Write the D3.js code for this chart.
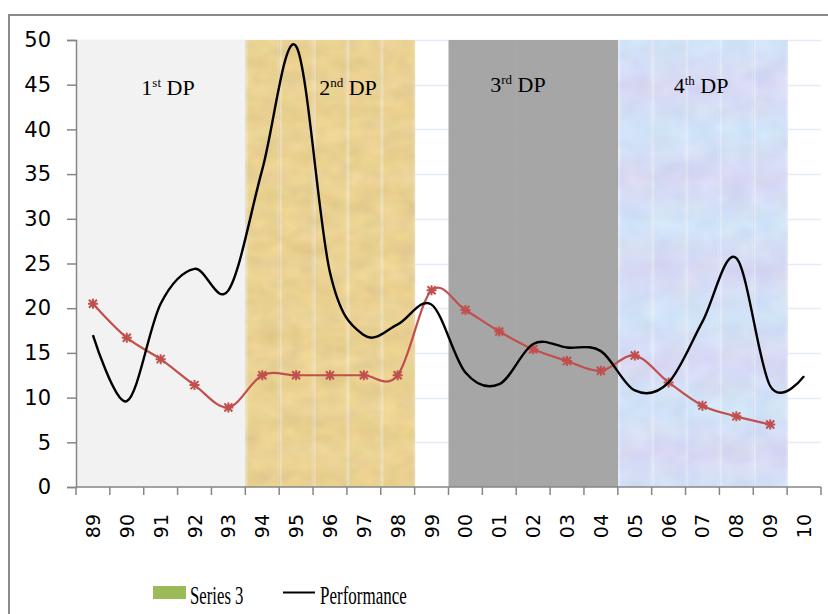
<!DOCTYPE html>
<html>
<head>
<meta charset="utf-8">
<script src="https://cdn.jsdelivr.net/npm/d3@7"></script>
<style>
  html, body { margin: 0; padding: 0; background: #fff; }
  svg { display: block; }
</style>
</head>
<body>
<svg id="chart" width="828" height="614"></svg>
<script>
// Years on the category axis
const years = ["89","90","91","92","93","94","95","96","97","98","99",
               "00","01","02","03","04","05","06","07","08","09","10"];

// Performance (black smoothed line)
const performance = [17, 9.6, 20.5, 24.4, 22, 35.5, 49.3, 24, 17, 18.2, 20.4,
                     12.8, 11.5, 16, 15.6, 15.2, 10.8, 11.7, 18.5, 25.6, 11.3, 12.4];

// Second series (red smoothed line with star markers)
const series2 = [20.5, 16.7, 14.3, 11.4, 8.9, 12.5, 12.5, 12.5, 12.5, 12.5, 22,
                 19.8, 17.4, 15.4, 14.1, 13, 14.7, 11.7, 9.1, 7.9, 7, null];

// Series 3: full-height columns marking the four periods (0 = no column)
const series3 = [50, 50, 50, 50, 50, 50, 50, 50, 50, 50, 0,
                 50, 50, 50, 50, 50, 50, 50, 50, 50, 50, 0];

// Period each column belongs to
const period = [0,0,0,0,0, 1,1,1,1,1, -1, 2,2,2,2,2, 3,3,3,3,3, -1];

// Period labels (number + ordinal suffix)
const periodNum = ["1", "2", "3", "4"];
const periodSup = ["st", "nd", "rd", "th"];

const yTicks = [0, 5, 10, 15, 20, 25, 30, 35, 40, 45, 50];

const svg = d3.select("#chart");
const W = 828, H = 614;
const plot = { left: 76, right: 821, top: 40, bottom: 487 };

const x = d3.scaleBand().domain(years).range([plot.left, plot.right]).padding(0);
const y = d3.scaleLinear().domain([0, 50]).range([plot.bottom, plot.top]);
const bw = x.bandwidth();
const cx = d => x(d) + bw / 2;

const defs = svg.append("defs");

// Band-wise stripe pattern: light seam at each column edge, soft vertical shading
function stripePattern(id, top, bottom, seam, x0, h) {
  const gid = id + "-grad";
  const g = defs.append("linearGradient").attr("id", gid)
    .attr("x1", 0).attr("y1", 0).attr("x2", 0).attr("y2", 1);
  g.append("stop").attr("offset", "0%").attr("stop-color", top);
  g.append("stop").attr("offset", "50%").attr("stop-color", bottom);
  g.append("stop").attr("offset", "100%").attr("stop-color", top);
  const p = defs.append("pattern")
    .attr("id", id).attr("patternUnits", "userSpaceOnUse")
    .attr("x", x0).attr("y", plot.top).attr("width", bw).attr("height", h);
  p.append("rect").attr("width", bw).attr("height", h).attr("fill", `url(#${gid})`);
  p.append("rect").attr("x", 0).attr("width", 2.5).attr("height", h)
    .attr("fill", seam).attr("opacity", 0.7);
  p.append("rect").attr("x", bw - 1.5).attr("width", 1.5).attr("height", h)
    .attr("fill", seam).attr("opacity", 0.35);
  return p;
}
stripePattern("papyrus", "#ebd396", "#e8cf8e", "#eee3c6", x("94"), 46);
stripePattern("bluetex", "#d0e4f7", "#d8d8f3", "#e6ecfa", x("05"), 92);

// Grain filter: adds a soft, low-contrast mottling to the textured periods
function grain(id, freq, k, seed) {
  const f = defs.append("filter").attr("id", id)
    .attr("filterUnits", "userSpaceOnUse")
    .attr("x", 0).attr("y", 0).attr("width", W).attr("height", H)
    .attr("color-interpolation-filters", "sRGB");
  f.append("feTurbulence").attr("type", "fractalNoise")
    .attr("baseFrequency", freq).attr("numOctaves", 2).attr("seed", seed)
    .attr("result", "noise");
  f.append("feColorMatrix").attr("in", "noise").attr("type", "matrix")
    .attr("values", "0.8 0.2 0 0 0  0.5 0.5 0 0 0  0.3 0.2 0.5 0 0  0 0 0 0 1")
    .attr("result", "opaque");
  f.append("feComposite").attr("in", "SourceGraphic").attr("in2", "opaque")
    .attr("operator", "arithmetic")
    .attr("k1", 0).attr("k2", 1).attr("k3", k).attr("k4", -k / 2)
    .attr("result", "mix");
  f.append("feComposite").attr("in", "mix").attr("in2", "SourceGraphic")
    .attr("operator", "in");
}
grain("grainWarm", "0.05 0.07", 0.12, 4);
grain("grainCool", "0.04 0.05", 0.10, 9);

// Outer frame
svg.append("line").attr("x1", 9).attr("x2", 9).attr("y1", 14).attr("y2", H)
  .attr("stroke", "#898989").attr("stroke-width", 2);
svg.append("line").attr("x1", 8).attr("x2", W).attr("y1", 15).attr("y2", 15)
  .attr("stroke", "#898989").attr("stroke-width", 2);

// Horizontal gridlines
svg.append("g").selectAll("line").data(yTicks.filter(d => d > 0)).join("line")
  .attr("x1", plot.left).attr("x2", plot.right)
  .attr("y1", d => Math.round(y(d)) + 0.5).attr("y2", d => Math.round(y(d)) + 0.5)
  .attr("stroke", "#e4ecf6").attr("stroke-width", 1.5);

// Series 3 columns (gap width 0), each period with its own fill
const fills = ["#f2f2f2", "url(#papyrus)", "#a6a6a6", "url(#bluetex)"];
const filters = [null, "url(#grainWarm)", null, "url(#grainCool)"];
svg.append("g").selectAll("rect")
  .data(years.map((yr, i) => ({ yr, v: series3[i], p: period[i] })).filter(d => d.v > 0))
  .join("rect")
  .attr("x", d => x(d.yr)).attr("width", bw + 0.6)
  .attr("y", d => y(d.v)).attr("height", d => y(0) - y(d.v))
  .attr("fill", d => fills[d.p])
  .attr("filter", d => filters[d.p]);

// Period labels
const labelX = [168, 348, 518, 701];
const labelY = [95, 95, 92, 93];
const lbl = svg.append("g")
  .attr("font-family", "'Liberation Serif', 'Times New Roman', serif")
  .attr("fill", "#000");
periodNum.forEach((n, i) => {
  const t = lbl.append("text")
    .attr("x", labelX[i]).attr("y", labelY[i])
    .attr("text-anchor", "middle").attr("font-size", 22);
  t.append("tspan").text(n);
  t.append("tspan").attr("font-size", 13).attr("dy", -8).text(periodSup[i]);
  t.append("tspan").attr("dy", 8).text(" DP");
});

// Smoothed lines
const smooth = d3.line()
  .defined(d => d.v != null)
  .x(d => cx(d.yr)).y(d => y(d.v))
  .curve(d3.curveCatmullRom.alpha(0));

const redData = years.map((yr, i) => ({ yr, v: series2[i] }));
const perfData = years.map((yr, i) => ({ yr, v: performance[i] }));

svg.append("path").datum(redData).attr("d", smooth)
  .attr("fill", "none").attr("stroke", "#c0504d").attr("stroke-width", 2.2)
  .attr("stroke-linejoin", "round");

svg.append("g").selectAll("path").data(redData.filter(d => d.v != null)).join("path")
  .attr("transform", d => `translate(${cx(d.yr)},${y(d.v)})`)
  .attr("d", "M-4,-4L4,4M-4,4L4,-4M0,-5L0,5M-5,0L5,0")
  .attr("stroke", "#c0504d").attr("stroke-width", 2).attr("fill", "none");

svg.append("path").datum(perfData).attr("d", smooth)
  .attr("fill", "none").attr("stroke", "#000").attr("stroke-width", 2.4)
  .attr("stroke-linejoin", "round");

// Y axis
const yAxis = d3.axisLeft(y).tickValues(yTicks).tickSize(9).tickPadding(16);
const gy = svg.append("g").attr("transform", `translate(${plot.left},0)`).call(yAxis);
gy.select(".domain").attr("stroke", "#868686").attr("stroke-width", 1.5);
gy.selectAll(".tick line").attr("stroke", "#868686").attr("stroke-width", 1.5);
gy.selectAll(".tick text")
  .attr("font-family", "'DejaVu Sans', Verdana, sans-serif")
  .attr("font-size", 21).attr("fill", "#000");

// X axis: ticks between categories, labels rotated
const gx = svg.append("g").attr("transform", `translate(0,${plot.bottom})`);
gx.append("line").attr("x1", plot.left).attr("x2", plot.right)
  .attr("stroke", "#868686").attr("stroke-width", 1.5);
gx.selectAll("line.tk").data(years.concat(["end"])).join("line").attr("class", "tk")
  .attr("x1", (d, i) => plot.left + i * bw).attr("x2", (d, i) => plot.left + i * bw)
  .attr("y1", 0).attr("y2", 8)
  .attr("stroke", "#868686").attr("stroke-width", 1.5);
gx.selectAll("text").data(years).join("text")
  .attr("transform", d => `translate(${cx(d) + 7},27) rotate(-90)`)
  .attr("text-anchor", "end")
  .attr("font-family", "'DejaVu Sans', Verdana, sans-serif")
  .attr("font-size", 19).attr("fill", "#000")
  .text(d => d);

// Legend
const lg = svg.append("g")
  .attr("font-family", "'Liberation Serif', 'Times New Roman', serif")
  .attr("font-size", 25).attr("fill", "#000");
lg.append("rect").attr("x", 153).attr("y", 586).attr("width", 33).attr("height", 13)
  .attr("fill", "#9bbb59");
lg.append("text").attr("transform", "translate(190,604) scale(0.67,1)").text("Series 3");
lg.append("line").attr("x1", 283).attr("x2", 315).attr("y1", 592.5).attr("y2", 592.5)
  .attr("stroke", "#000").attr("stroke-width", 2);
lg.append("text").attr("transform", "translate(320,604) scale(0.68,1)").text("Performance");
</script>
</body>
</html>
